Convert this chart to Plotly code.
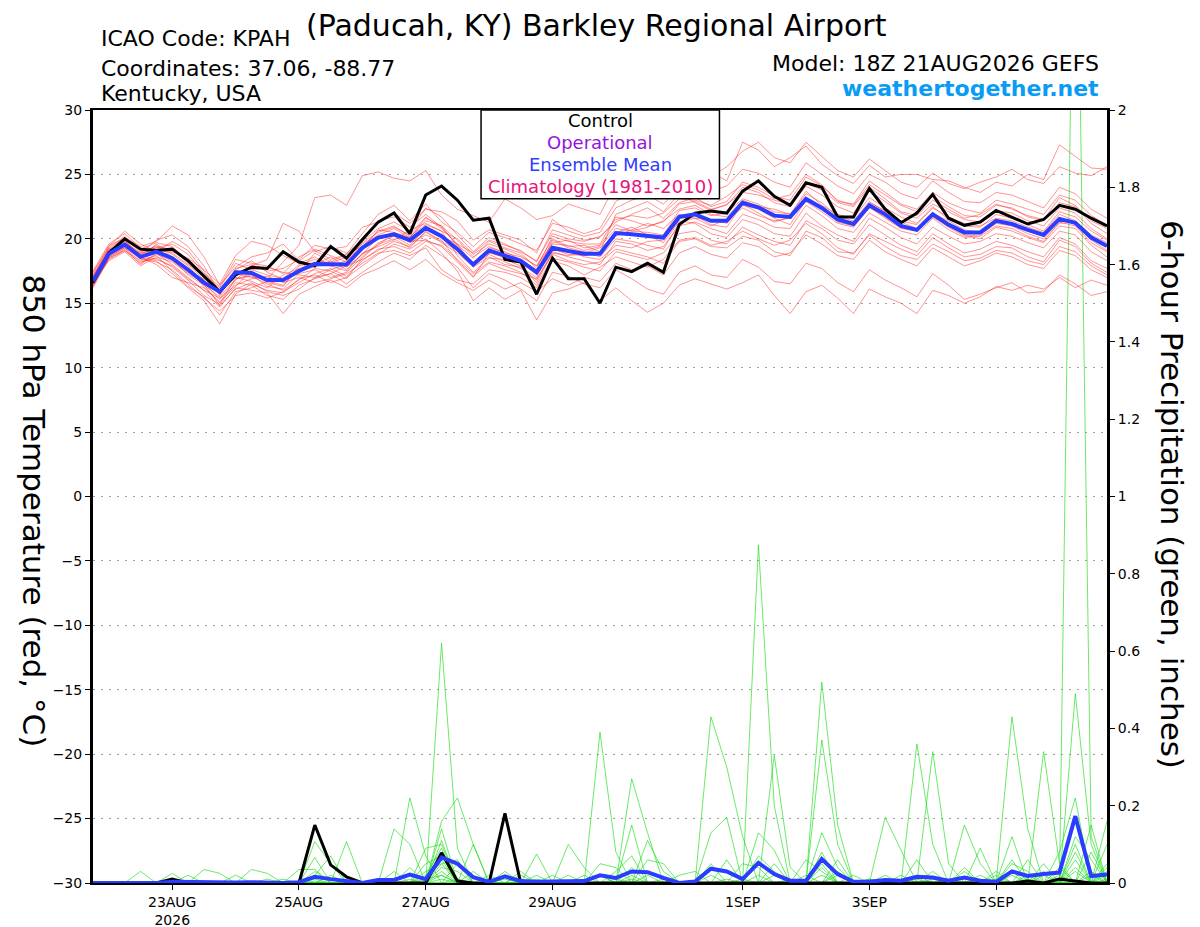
import pandas as pd
import plotly.graph_objects as go

# 6-hourly forecast times, 18Z 21 Aug to 18Z 6 Sep
times = pd.date_range("2026-08-21 18:00", periods=65, freq="6h")

tick_dates = ["2026-08-23", "2026-08-25", "2026-08-27", "2026-08-29",
              "2026-09-01", "2026-09-03", "2026-09-05"]
tick_text = ["23AUG<br>2026", "25AUG", "27AUG", "29AUG", "1SEP", "3SEP", "5SEP"]

# 850 hPa temperature (C)
control_t = [16.6, 18.9, 20.0, 19.2, 19.1, 19.2, 18.3, 17.1, 15.9, 17.2, 17.8, 17.7, 19.0,
             18.2, 17.9, 19.4, 18.5, 19.95, 21.3, 22.0, 20.4, 23.4, 24.1, 23.0, 21.45, 21.6,
             18.4, 18.2, 15.7, 18.5, 16.9, 16.9, 15.0, 17.8, 17.45, 18.1, 17.4, 21.1, 22.0,
             22.15, 22.0, 23.7, 24.5, 23.3, 22.6, 24.35, 24.0, 21.7, 21.7, 23.9, 22.3, 21.25,
             22.0, 23.45, 21.6, 21.05, 21.3, 22.2, 21.7, 21.15, 21.5, 22.6, 22.3, 21.6, 21.0]
mean_t = [16.7, 18.85, 19.55, 18.6, 19.0, 18.5, 17.6, 16.6, 15.9, 17.4, 17.35, 16.8, 16.8,
          17.5, 18.05, 18.05, 18.0, 19.3, 20.1, 20.35, 19.9, 20.85, 20.2, 19.2, 18.0, 19.1,
          18.7, 18.3, 17.4, 19.3, 19.05, 18.85, 18.85, 20.45, 20.35, 20.2, 20.1, 21.7, 21.9,
          21.4, 21.4, 22.8, 22.45, 21.8, 21.7, 23.1, 22.4, 21.5, 21.15, 22.6, 21.9, 21.0,
          20.7, 21.9, 21.1, 20.5, 20.5, 21.4, 21.15, 20.7, 20.3, 21.55, 21.25, 20.1, 19.45]

m1 = [16.9, 19.2, 20.1, 19.4, 19.8, 21.0, 20.3, 18.6, 16.4,
      17.8, 18.6, 18.9, 19.6, 18.3, 19.1, 18.4, 18.8,
      20.4, 21.9, 22.6, 21.4, 22.7, 21.3, 20.5, 19.4,
      20.5, 20.1, 19.6, 19.1, 21.2, 20.9, 20.4, 20.8,
      22.9, 23.6, 24.2, 23.8, 24.9, 25.7, 24.8, 25.6,
      26.8, 27.5, 26.3, 25.9, 27.5, 26.4, 25.3, 24.8,
      26.2, 25.3, 24.4, 24.0, 25.1, 24.3, 23.9, 24.4,
      24.8, 25.4, 24.6, 24.3, 25.6, 25.1, 24.9, 25.6]
m2 = [16.5, 18.6, 19.3, 18.2, 18.5, 17.8, 16.8, 15.6, 14.9,
      16.6, 16.4, 15.6, 15.3, 16.4, 16.9, 17.3, 16.5,
      17.4, 18.2, 18.9, 18.4, 19.5, 18.7, 17.8, 16.2,
      17.3, 16.8, 16.1, 15.2, 17.4, 17.1, 16.5, 16.2,
      17.6, 16.9, 16.1, 15.7, 17.4, 17.9, 17.2, 17.0,
      18.4, 17.8, 16.7, 16.5, 18.1, 17.7, 16.6, 15.9,
      17.6, 16.8, 16.2, 15.5, 17.3, 16.4, 15.3, 15.7,
      16.2, 16.6, 15.8, 15.9, 17.2, 16.5, 15.6, 15.9]
m3 = [17.2, 19.0, 19.8, 18.9, 19.2, 18.9, 18.0, 17.1, 16.2,
      18.1, 17.6, 17.2, 16.9, 18.0, 18.4, 18.1, 18.6,
      19.6, 20.3, 20.8, 20.1, 21.6, 21.0, 19.9, 18.6,
      19.4, 18.9, 18.6, 17.9, 19.6, 19.5, 19.1, 19.4,
      20.8, 20.6, 20.5, 20.3, 22.2, 22.4, 21.8, 22.0,
      23.1, 22.7, 22.1, 21.9, 23.5, 22.8, 21.7, 21.4,
      22.9, 22.1, 21.3, 20.8, 22.0, 21.4, 20.7, 20.5,
      21.5, 21.2, 20.6, 20.2, 21.6, 21.1, 19.9, 19.1]
m4 = [16.4, 18.7, 19.4, 18.5, 18.3, 17.3, 16.2, 15.2, 13.4,
      15.7, 16.5, 16.0, 15.8, 16.9, 17.2, 16.6, 17.0,
      17.9, 18.8, 19.6, 19.2, 20.0, 18.9, 17.5, 15.2,
      16.2, 15.3, 16.0, 13.7, 15.8, 16.1, 16.6, 15.2,
      16.2, 15.2, 14.3, 15.0, 16.4, 16.9, 16.5, 16.1,
      16.6, 17.2, 15.6, 14.2, 15.9, 16.4, 15.4, 14.2,
      16.1, 15.5, 15.0, 14.2, 16.0, 15.6, 15.0, 15.5,
      16.3, 16.0, 16.4, 16.1, 17.0, 16.2, 16.8, 16.4]
m5 = [17.0, 19.4, 20.6, 19.6, 19.0, 19.8, 19.1, 17.5, 15.9,
      17.3, 17.0, 16.9, 18.2, 19.5, 23.2, 23.4, 22.6,
      24.9, 25.2, 24.7, 24.5, 25.3, 23.4, 22.3, 21.8,
      21.3, 23.1, 22.4, 21.5, 21.8, 22.7, 22.3, 21.9,
      24.3, 24.9, 24.4, 24.7, 25.4, 25.9, 25.2, 24.5,
      27.5, 26.9, 25.6, 26.3, 27.2, 25.8, 24.9, 24.3,
      25.7, 24.8, 25.0, 25.0, 24.6, 24.5, 24.0, 23.6,
      24.4, 24.1, 25.0, 24.6, 27.3, 26.4, 25.5, 25.4]
m6 = [16.6, 18.3, 19.0, 17.9, 18.6, 18.2, 17.3, 16.6, 15.3,
      16.8, 17.9, 18.4, 21.2, 20.6, 19.0, 19.4, 18.9,
      19.8, 20.8, 21.3, 20.6, 22.4, 21.7, 20.3, 19.0,
      20.1, 19.6, 19.0, 18.3, 20.4, 20.0, 19.8, 20.2,
      21.3, 21.9, 22.4, 21.6, 22.8, 23.2, 22.5, 22.9,
      24.4, 24.0, 23.3, 23.0, 24.8, 24.1, 23.0, 22.6,
      24.2, 23.4, 22.6, 22.1, 23.3, 22.5, 21.8, 21.7,
      22.6, 22.4, 21.7, 21.4, 22.8, 22.5, 21.2, 20.4]
m7 = [16.8, 19.1, 19.7, 18.8, 19.5, 18.6, 17.7, 16.3, 15.0,
      16.9, 17.2, 16.3, 16.1, 17.3, 17.6, 17.0, 17.4,
      18.6, 19.7, 20.2, 19.5, 20.8, 20.2, 19.6, 17.9,
      18.8, 18.2, 17.7, 16.8, 19.0, 18.6, 18.3, 18.0,
      19.8, 19.6, 19.1, 19.4, 21.0, 21.3, 20.8, 20.4,
      21.9, 21.5, 20.9, 20.8, 22.6, 21.8, 20.8, 20.5,
      22.0, 21.3, 20.6, 20.3, 21.6, 20.7, 20.1, 20.2,
      21.0, 20.8, 20.2, 19.8, 21.3, 21.0, 19.7, 19.0]
m8 = [16.3, 18.5, 19.2, 18.0, 18.9, 18.0, 17.0, 16.0, 14.7,
      16.2, 16.0, 15.8, 14.2, 15.7, 16.3, 16.8, 16.2,
      17.2, 17.7, 18.3, 17.6, 18.4, 17.3, 16.6, 16.0,
      16.8, 16.1, 16.6, 15.9, 16.9, 16.4, 17.0, 16.7,
      18.1, 17.6, 17.9, 17.2, 18.9, 19.4, 18.8, 18.5,
      19.7, 19.4, 18.6, 18.9, 20.3, 19.6, 18.7, 18.4,
      19.9, 19.0, 18.4, 17.9, 19.3, 18.6, 17.9, 18.3,
      18.9, 18.6, 18.0, 17.7, 19.1, 18.7, 17.6, 17.0]
m9 = [17.4, 19.3, 20.2, 19.1, 19.3, 19.0, 18.5, 17.6, 16.5,
      18.7, 19.8, 19.5, 18.7, 18.1, 18.6, 17.9, 17.5,
      18.9, 19.4, 19.9, 20.7, 21.2, 20.6, 18.7, 17.4,
      18.5, 18.4, 17.9, 16.6, 18.9, 18.7, 18.9, 19.3,
      20.2, 20.7, 21.2, 20.8, 21.9, 21.6, 21.0, 21.5,
      22.4, 21.8, 21.4, 21.6, 22.9, 22.1, 21.2, 20.9,
      22.4, 21.7, 20.9, 20.6, 21.8, 21.0, 20.3, 20.0,
      20.9, 20.6, 20.1, 19.7, 21.0, 20.8, 19.5, 18.6]
m10 = [16.7, 18.9, 19.5, 18.4, 18.2, 17.6, 16.5, 15.4, 14.4,
       15.6, 15.8, 15.4, 15.9, 16.6, 17.3, 17.7, 17.1,
       18.3, 19.2, 19.4, 18.9, 19.8, 19.5, 18.4, 17.3,
       18.2, 17.9, 17.4, 16.4, 18.5, 18.2, 17.8, 17.5,
       19.0, 18.7, 18.4, 18.9, 20.4, 20.6, 19.9, 19.6,
       20.9, 20.3, 19.8, 19.5, 21.4, 20.8, 19.9, 19.6,
       21.1, 20.3, 19.5, 19.0, 20.4, 19.6, 18.9, 19.2,
       19.8, 19.5, 19.0, 18.6, 20.1, 19.6, 18.3, 17.7]
m11 = [16.9, 19.0, 19.9, 19.2, 19.7, 19.4, 18.3, 17.2, 15.6,
       17.5, 17.3, 16.6, 16.3, 17.9, 18.2, 17.9, 18.3,
       19.9, 21.4, 21.7, 20.9, 21.9, 20.9, 19.5, 18.5,
       19.8, 19.3, 18.9, 17.7, 20.2, 19.8, 19.6, 19.6,
       21.7, 21.4, 21.0, 21.3, 22.7, 22.9, 22.3, 22.6,
       24.0, 23.6, 22.8, 22.5, 24.1, 23.4, 22.5, 22.0,
       23.7, 22.9, 22.0, 21.6, 22.7, 22.1, 21.5, 21.3,
       22.2, 22.0, 21.4, 21.0, 22.4, 22.0, 20.8, 20.0]
m12 = [16.5, 18.4, 19.1, 18.1, 18.8, 18.3, 17.4, 16.9, 16.0,
       17.0, 16.7, 16.2, 17.2, 17.7, 18.0, 18.6, 17.8,
       18.8, 19.5, 20.5, 19.7, 20.3, 19.8, 19.1, 18.2,
       19.0, 18.5, 18.2, 17.5, 19.2, 18.8, 18.7, 18.9,
       20.5, 20.9, 20.3, 19.7, 21.3, 21.6, 21.5, 21.2,
       22.6, 22.3, 21.6, 21.1, 23.0, 22.3, 21.6, 21.2,
       22.5, 21.6, 20.8, 20.6, 21.7, 20.9, 20.2, 20.3,
       21.2, 21.0, 20.4, 20.0, 21.2, 21.3, 20.0, 19.5]
m13 = [17.1, 19.2, 19.6, 18.7, 18.4, 17.9, 16.9, 16.0, 15.4,
       16.4, 16.9, 17.1, 16.6, 17.0, 16.6, 16.9, 17.3,
       18.1, 18.9, 19.1, 18.7, 19.3, 17.6, 16.8, 16.5,
       17.6, 17.4, 17.0, 16.2, 18.3, 17.9, 17.2, 17.8,
       18.6, 18.2, 17.8, 18.4, 19.9, 20.1, 19.5, 19.8,
       20.6, 20.0, 19.5, 19.9, 21.2, 20.4, 19.3, 18.8,
       20.4, 19.8, 19.2, 18.7, 20.1, 19.3, 18.6, 18.8,
       19.4, 19.3, 18.6, 18.2, 19.9, 19.4, 18.1, 17.4]
m14 = [16.6, 18.8, 19.4, 18.9, 19.9, 20.3, 19.4, 17.9, 15.8,
       17.6, 18.3, 17.4, 16.9, 17.4, 18.9, 18.2, 18.8,
       19.4, 20.6, 21.0, 20.2, 21.1, 20.6, 20.0, 18.8,
       19.6, 19.2, 18.7, 17.9, 20.0, 19.4, 19.5, 19.0,
       21.9, 22.4, 22.9, 22.1, 23.5, 22.8, 22.2, 22.7,
       23.6, 23.4, 23.0, 22.7, 24.3, 23.8, 22.8, 22.5,
       24.0, 23.1, 22.1, 21.8, 23.0, 22.3, 21.6, 21.9,
       22.7, 22.3, 21.8, 21.5, 23.2, 22.6, 21.4, 20.8]
m15 = [17.5, 19.6, 20.4, 19.3, 19.1, 18.4, 17.2, 16.4, 15.5,
       16.9, 17.1, 16.5, 16.0, 16.8, 17.7, 17.5, 16.9,
       18.5, 19.6, 20.0, 19.3, 20.6, 19.7, 18.9, 17.8,
       18.6, 18.0, 17.8, 17.0, 19.4, 19.1, 18.6, 18.4,
       19.5, 19.3, 19.8, 19.9, 21.4, 21.2, 20.4, 20.1,
       21.5, 21.1, 20.4, 20.2, 22.0, 21.0, 20.3, 19.8,
       21.6, 20.9, 20.1, 19.6, 20.9, 20.2, 19.6, 19.8,
       20.4, 20.2, 19.7, 19.3, 20.6, 20.3, 19.0, 18.3]
m16 = [16.2, 18.5, 19.1, 18.3, 18.7, 17.5, 16.3, 15.5, 14.1,
       15.9, 16.2, 16.7, 16.4, 17.6, 17.8, 18.3, 17.6,
       18.8, 20.1, 20.3, 19.8, 19.9, 19.4, 18.2, 17.0,
       18.9, 18.6, 18.1, 17.3, 19.9, 19.3, 19.0, 18.6,
       20.0, 19.8, 19.5, 19.2, 21.2, 21.8, 21.1, 20.9,
       22.7, 22.0, 21.3, 21.7, 23.2, 22.5, 21.3, 21.0,
       22.8, 22.2, 21.4, 21.1, 22.4, 21.7, 21.2, 21.0,
       21.6, 21.4, 20.9, 20.5, 21.9, 21.4, 20.3, 19.7]
m17 = [16.8, 18.9, 19.9, 18.6, 18.0, 17.0, 16.6, 16.2, 15.1,
       16.3, 17.6, 17.8, 17.4, 17.2, 17.0, 17.6, 18.0,
       19.2, 20.7, 20.5, 20.1, 21.4, 21.0, 19.4, 18.1,
       19.3, 19.0, 18.4, 17.6, 19.7, 19.9, 19.3, 19.5,
       21.1, 20.6, 20.9, 21.4, 22.3, 22.6, 21.9, 21.7,
       23.0, 22.5, 22.3, 21.9, 23.7, 22.6, 21.9, 21.6,
       23.2, 22.4, 21.7, 21.2, 22.5, 21.5, 21.0, 20.9,
       21.9, 21.6, 21.1, 20.6, 22.1, 21.7, 20.6, 19.9]
m18 = [17.3, 19.5, 20.0, 19.0, 19.4, 19.2, 18.1, 16.8, 15.7,
       17.7, 18.0, 17.5, 17.7, 18.4, 19.5, 19.2, 19.4,
       20.9, 21.3, 22.0, 21.2, 22.3, 22.1, 21.4, 19.9,
       20.7, 20.3, 19.9, 18.9, 21.5, 20.6, 20.2, 20.5,
       22.4, 23.0, 23.4, 22.7, 23.9, 24.3, 23.7, 24.1,
       25.4, 25.1, 24.4, 24.0, 25.9, 25.0, 24.1, 23.5,
       25.0, 24.4, 23.5, 23.1, 24.5, 23.6, 22.9, 22.8,
       23.6, 23.4, 22.9, 22.4, 24.0, 23.5, 22.3, 21.6]
m19 = [16.4, 18.6, 19.3, 18.5, 19.6, 18.8, 17.9, 16.5, 14.8,
       16.1, 16.6, 15.9, 15.6, 16.1, 17.0, 17.3, 17.9,
       18.4, 19.1, 19.8, 19.4, 20.5, 19.9, 18.3, 17.1,
       18.1, 17.6, 17.3, 16.9, 18.8, 18.3, 18.0, 18.2,
       19.2, 18.9, 18.6, 18.1, 19.8, 20.0, 19.4, 19.3,
       20.2, 19.9, 19.0, 18.7, 20.6, 20.1, 19.0, 18.9,
       20.3, 19.4, 18.7, 18.4, 19.6, 19.0, 18.3, 18.5,
       19.1, 18.9, 18.3, 18.0, 19.4, 19.0, 17.9, 17.2]
m20 = [17.0, 19.1, 19.8, 18.8, 19.3, 19.6, 18.8, 17.3, 16.3,
       18.4, 18.1, 17.9, 17.3, 18.6, 19.2, 18.7, 18.2,
       19.7, 20.5, 20.9, 20.3, 21.7, 20.8, 19.6, 18.9,
       19.9, 19.5, 19.1, 18.2, 20.7, 20.3, 19.9, 20.1,
       21.5, 21.8, 21.6, 22.0, 23.1, 23.0, 22.6, 23.3,
       24.2, 23.8, 23.1, 23.4, 25.0, 24.2, 22.9, 22.7,
       24.5, 23.6, 22.7, 22.3, 23.6, 22.8, 22.3, 22.0,
       23.0, 22.7, 22.3, 21.9, 23.4, 23.0, 21.8, 21.1]
members_t = [m1, m2, m3, m4, m5, m6, m7, m8, m9, m10,
             m11, m12, m13, m14, m15, m16, m17, m18, m19, m20]

# 6-hour precipitation (inches)
control_p = [0, 0, 0, 0, 0, .01, 0, 0, 0, 0, 0, 0, 0,
             0, .15, .047, .016, 0, 0, 0, 0, 0, .078, .005, 0, 0,
             .18, 0, 0, 0, 0, 0, 0, 0, 0, 0, 0, 0, 0,
             0, 0, 0, 0, 0, 0, 0, 0, 0, 0, 0, 0, 0,
             0, 0, 0, 0, 0, 0, 0, .005, 0, .01, .005, 0, 0]
mean_p = [0, 0, 0, .002, 0, .003, .002, .003, .002, .001, .002, .001, 0,
          .002, .016, .01, .005, 0, .008, .008, .022, .01, .066, .05, .015, .003,
          .017, .005, .003, .003, .003, .005, .02, .013, .03, .028, .013, 0, .004,
          .037, .03, .01, .052, .023, .006, .006, .062, .023, .003, .003, .008, .006,
          .016, .014, .006, .014, .006, .003, .03, .018, .023, .027, .173, .018, .022]

p1 = [0, 0, 0, .03, 0, 0, 0, 0, 0, 0, 0, 0, 0,
      0, .107, .05, 0, 0, 0, 0, 0, 0, .62, .09, 0, 0,
      0, 0, 0, 0, 0, 0, 0, 0, 0, 0, 0, 0, 0,
      0, 0, 0, .875, .2, 0, 0, .08, 0, 0, 0, 0, 0,
      0, 0, 0, 0, 0, 0, 0, 0, 0, 0, .49, .1, 0]
p2 = [0, 0, 0, 0, 0, .025, 0, 0, 0, 0, 0, 0, 0,
      0, .066, 0, .107, 0, 0, 0, .22, .07, 0, 0, 0, 0,
      0, 0, 0, 0, 0, 0, .39, .08, 0, 0, 0, 0, 0,
      0, 0, 0, 0, 0, 0, 0, .52, .15, 0, 0, 0, 0,
      0, 0, 0, 0, 0, 0, .12, 0, 0, 0, .08, 0, .16]
p3 = [0, 0, 0, 0, 0, 0, 0, .035, .025, 0, 0, 0, 0,
      0, 0, 0, 0, 0, 0, .14, .1, 0, .16, .22, .1, 0,
      0, 0, 0, 0, 0, 0, 0, 0, 0, 0, 0, 0, 0,
      .43, .3, .12, 0, 0, 0, 0, 0, 0, 0, 0, 0, 0,
      .36, .1, 0, 0, 0, 0, 0, 0, .05, 0, 0, 0, 0]
p4 = [0, 0, 0, 0, 0, 0, 0, 0, 0, 0, .035, .025, 0,
      0, 0, 0, 0, 0, 0, 0, 0, 0, .14, 0, 0, 0,
      0, 0, .075, 0, 0, 0, 0, 0, .27, .13, 0, 0, 0,
      0, 0, 0, 0, .33, .04, 0, 0, 0, 0, 0, 0, 0,
      0, 0, 0, 0, 0, 0, .43, .14, 0, 0, 2.9, .12, 0]
p5 = [0, 0, 0, 0, 0, 0, .02, 0, 0, 0, 0, 0, 0,
      .035, .035, 0, 0, 0, 0, 0, 0, .09, .1, 0, 0, 0,
      0, 0, 0, 0, .1, .04, 0, 0, 0, 0, 0, 0, 0,
      0, 0, 0, 0, 0, 0, 0, .37, .1, 0, 0, 0, 0,
      0, .34, .05, 0, 0, 0, 0, 0, .34, .05, 0, 0, 0]
p6 = [0, 0, 0, 0, 0, 0, 0, 0, 0, 0, 0, 0, .01,
      0, 0, 0, 0, 0, 0, 0, 0, 0, .08, 0, .1, 0,
      .03, 0, 0, 0, 0, 0, 0, 0, .15, 0, 0, 0, 0,
      .13, .17, 0, 0, 0, 0, 0, 0, 0, 0, 0, .17, .085,
      0, 0, 0, 0, .09, 0, 0, .06, 0, 0, 0, 0, .1]
p7 = [0, 0, 0, 0, 0, 0, 0, 0, 0, 0, 0, 0, 0,
      0, .02, .07, 0, 0, 0, 0, 0, .03, .05, .06, 0, 0,
      0, .03, 0, 0, 0, 0, .05, .04, 0, 0, 0, 0, 0,
      0, 0, 0, .13, .085, 0, 0, 0, 0, 0, 0, 0, 0,
      0, 0, 0, .15, .05, 0, 0, 0, 0, 0, 0, .15, 0]
p8 = [0, 0, 0, 0, 0, 0, 0, 0, 0, 0, 0, .01, 0,
      0, 0, 0, 0, 0, 0, 0, .04, 0, .11, 0, 0, 0,
      .02, 0, 0, .02, 0, 0, 0, 0, 0, .06, .05, 0, 0,
      0, 0, 0, 0, 0, 0, 0, .13, .04, 0, 0, 0, 0,
      0, 0, 0, 0, 0, .03, 0, 0, 0, .08, .22, 0, .05]
p9 = [0, 0, 0, 0, 0, 0, 0, 0, 0, .02, 0, 0, 0,
      0, 0, 0, 0, 0, .01, 0, 0, .05, .07, 0, 0, .02,
      0, 0, 0, 0, 0, .02, 0, 0, 0, 0, 0, .02, .03,
      0, 0, 0, 0, 0, 0, .06, .03, 0, 0, 0, 0, 0,
      .06, 0, 0, .03, 0, 0, 0, 0, 0, 0, .12, .06, 0]
p10 = [0, 0, 0, 0, 0, 0, 0, 0, 0, 0, 0, 0, 0,
       0, .03, 0, 0, 0, 0, 0, 0, 0, .04, .03, 0, 0,
       0, 0, .02, 0, 0, 0, 0, .03, .07, 0, 0, 0, 0,
       0, 0, .05, .04, 0, 0, 0, 0, 0, .02, 0, 0, 0,
       0, 0, 0, 0, .02, 0, .05, .03, 0, .04, 0, 0, 0]
p11 = [0, 0, 0, 0, 0, 0, 0, 0, 0, 0, 0, 0, 0,
       0, 0, .02, 0, 0, 0, 0, 0, .02, .09, 0, 0, 0,
       0, .02, 0, 0, 0, 0, 0, 0, .04, 0, 0, 0, 0,
       0, 0, 0, .07, .03, 0, 0, 0, .06, 0, 0, 0, 0,
       0, .03, 0, 0, 0, .02, 0, 0, .03, 0, 0, .08, 0]
p12 = [0, 0, 0, 0, 0, 0, 0, 0, 0, 0, 0, 0, 0,
       0, 0, 0, 0, 0, 0, 0, 0, 0, .06, 0, .03, 0,
       0, 0, 0, 0, 0, 0, .02, 0, 0, .11, .03, 0, 0,
       0, .06, 0, 0, 0, 0, 0, .05, 0, 0, 0, 0, .02,
       0, 0, 0, 0, 0, 0, .02, 0, 0, 0, .1, 0, .04]
p13 = [0, 0, 0, 0, 0, 0, 0, 0, 0, 0, 0, 0, 0,
       0, .01, 0, 0, 0, 0, .03, 0, 0, 0, .05, 0, 0,
       0, 0, 0, 0, .02, 0, 0, 0, 0, 0, 0, 0, 0,
       .05, 0, 0, 0, 0, 0, .02, 0, 0, 0, .01, 0, 0,
       0, 0, 0, .04, 0, 0, 0, .02, 0, 0, 0, .03, 0]
p14 = [0, 0, 0, 0, 0, 0, 0, 0, 0, 0, 0, 0, 0,
       0, 0, 0, 0, 0, 0, 0, 0, 0, .03, 0, 0, 0,
       .01, 0, 0, 0, 0, 0, 0, 0, .02, 0, 0, 0, 0,
       0, 0, 0, 0, .05, 0, 0, 0, .03, 0, 0, 0, 0,
       .02, 0, 0, 0, 0, 0, .06, 0, 0, 0, .06, 0, .02]
p15 = [0, 0, 0, 0, 0, 0, 0, 0, 0, 0, 0, 0, 0,
       0, 0, 0, 0, 0, 0, 0, 0, .01, .02, 0, 0, 0,
       0, 0, 0, 0, 0, 0, 0, .01, 0, 0, 0, 0, 0,
       0, 0, 0, .02, 0, 0, 0, .02, 0, 0, 0, 0, 0,
       0, 0, 0, 0, .01, 0, 0, 0, 0, .02, 0, 0, 0]
p16 = [0, 0, 0, 0, 0, 0, 0, 0, 0, 0, 0, 0, 0,
       0, 0, 0, 0, 0, 0, 0, 0, 0, 0, .01, 0, 0,
       0, 0, 0, 0, 0, 0, 0, 0, 0, .02, 0, 0, 0,
       0, .01, 0, 0, 0, 0, 0, 0, .02, 0, 0, 0, 0,
       0, 0, .01, 0, 0, 0, 0, 0, 0, 0, .03, 0, 0]
p17 = [0, 0, 0, 0, 0, 0, 0, 0, 0, 0, 0, 0, 0,
       0, 0, 0, 0, 0, 0, 0, 0, 0, .05, 0, 0, 0,
       0, 0, .01, 0, 0, 0, 0, 0, 0, 0, 0, 0, 0,
       .02, 0, 0, 0, 0, 0, 0, .04, 0, 0, 0, .02, 0,
       0, 0, 0, 0, 0, 0, .03, 0, 0, 0, 0, .02, 0]
p18 = [0, 0, 0, 0, 0, 0, 0, 0, 0, 0, 0, 0, 0,
       0, .005, 0, 0, 0, 0, 0, 0, 0, .02, 0, 0, 0,
       0, 0, 0, 0, 0, 0, 0, 0, .01, 0, 0, 0, 0,
       0, 0, 0, 0, .02, 0, 0, 0, 0, 0, 0, 0, 0,
       0, .01, 0, 0, 0, 0, 0, 0, .02, 0, 0, 0, .01]
p19 = [0, 0, 0, 0, 0, 0, 0, 0, 0, 0, 0, 0, 0,
       0, 0, 0, 0, 0, 0, 0, .01, 0, 0, 0, 0, 0,
       0, 0, 0, 0, 0, 0, .02, 0, 0, 0, 0, 0, 0,
       0, 0, .01, 0, 0, 0, 0, 0, 0, 0, .01, 0, 0,
       0, 0, 0, 0, 0, .01, 0, 0, 0, 0, .04, 0, 0]
p20 = [0, 0, 0, 0, 0, 0, 0, 0, 0, 0, 0, 0, 0,
       0, 0, 0, 0, 0, 0, 0, 0, 0, .01, 0, 0, 0,
       0, 0, 0, 0, 0, 0, 0, 0, 0, 0, .01, 0, 0,
       0, 0, 0, 0, 0, .01, 0, 0, 0, 0, 0, 0, 0,
       .01, 0, 0, 0, 0, 0, 0, .01, 0, 0, 0, 0, .03]
members_p = [p1, p2, p3, p4, p5, p6, p7, p8, p9, p10,
             p11, p12, p13, p14, p15, p16, p17, p18, p19, p20]

FONT = "DejaVu Sans"

fig = go.Figure()

# precipitation on the primary (right-hand) axis so temperature draws on top
for p in members_p:
    fig.add_trace(go.Scatter(x=times, y=p, mode="lines", yaxis="y",
                             line=dict(color="rgba(20,220,20,0.8)", width=0.8),
                             hoverinfo="skip"))
fig.add_trace(go.Scatter(x=times, y=control_p, mode="lines", yaxis="y",
                         line=dict(color="black", width=3)))
fig.add_trace(go.Scatter(x=times, y=mean_p, mode="lines", yaxis="y",
                         line=dict(color="#2a3cff", width=4)))

for m in members_t:
    fig.add_trace(go.Scatter(x=times, y=m, mode="lines", yaxis="y2",
                             line=dict(color="rgba(255,30,30,0.6)", width=0.8),
                             hoverinfo="skip"))
fig.add_trace(go.Scatter(x=times, y=control_t, mode="lines", yaxis="y2",
                         line=dict(color="black", width=3)))
fig.add_trace(go.Scatter(x=times, y=mean_t, mode="lines", yaxis="y2",
                         line=dict(color="#2a3cff", width=4)))

# page body adds 8px, so the figure is 8px smaller than the window
fig.update_layout(
    width=1192, height=919,
    margin=dict(l=85, r=93, t=102, b=44),
    paper_bgcolor="white", plot_bgcolor="white",
    font=dict(family=FONT, size=14, color="black"),
    showlegend=False,
    hovermode=False,
    xaxis=dict(type="date", range=[times[0], times[-1]], automargin=False,
               tickmode="array", tickvals=tick_dates, ticktext=tick_text,
               ticks="outside", ticklen=5, tickcolor="black",
               showline=True, linecolor="black", linewidth=2, mirror=True,
               showgrid=False, zeroline=False, tickfont=dict(size=14)),
    yaxis=dict(range=[0, 2], dtick=0.2, side="right", automargin=False,
               ticks="outside", ticklen=5, tickcolor="black",
               showline=True, linecolor="black", linewidth=3,
               showgrid=False, zeroline=False, tickfont=dict(size=14)),
    yaxis2=dict(range=[-30, 30], dtick=5, side="left", overlaying="y", automargin=False,
                ticks="outside", ticklen=5, tickcolor="black",
                showline=True, linecolor="black", linewidth=3,
                showgrid=True, gridcolor="#a0a0a0", griddash="2px,6px", gridwidth=1,
                zeroline=False, tickfont=dict(size=14)),
)

# legend box (text only, no line samples)
fig.add_shape(type="rect", xref="paper", yref="paper",
              x0=0.3827, x1=0.6178, y0=0.8853, y1=1.0,
              fillcolor="white", line=dict(color="black", width=1.5))
legend_items = [("Control", "black", 0.9861),
                ("Operational", "#9414e0", 0.9582),
                ("Ensemble Mean", "#2e3dff", 0.9298),
                ("Climatology (1981-2010)", "#e8137a", 0.9008)]
for txt, col, yy in legend_items:
    fig.add_annotation(text=txt, x=0.5, y=yy, xref="paper", yref="paper",
                       xanchor="center", yanchor="middle",
                       showarrow=False, font=dict(size=18, color=col))

# header texts
fig.add_annotation(text="(Paducah, KY) Barkley Regional Airport", x=0.4963, y=1.1087,
                   xref="paper", yref="paper", xanchor="center", yanchor="middle",
                   showarrow=False, font=dict(size=30))
for txt, yy in [("ICAO Code: KPAH", 1.0931),
                ("Coordinates: 37.06, -88.77", 1.0543),
                ("Kentucky, USA", 1.0214)]:
    fig.add_annotation(text=txt, x=0.0057, y=yy, xref="paper", yref="paper",
                       xanchor="left", yanchor="middle", showarrow=False,
                       font=dict(size=22))
fig.add_annotation(text="Model: 18Z 21AUG2026 GEFS", x=0.9938, y=1.0599,
                   xref="paper", yref="paper", xanchor="right", yanchor="middle",
                   showarrow=False, font=dict(size=22))
fig.add_annotation(text="<b>weathertogether.net</b>", x=0.9938, y=1.0275,
                   xref="paper", yref="paper", xanchor="right", yanchor="middle",
                   showarrow=False, font=dict(size=22, color="#0a9cf5"))

# axis titles, both reading top to bottom
fig.add_annotation(text="850 hPa Temperature (red, °C)", x=-0.0591, y=0.4819,
                   xref="paper", yref="paper", xanchor="center", yanchor="middle",
                   textangle=90, showarrow=False, font=dict(size=31))
fig.add_annotation(text="6-hour Precipitation (green, inches)", x=1.0641, y=0.502,
                   xref="paper", yref="paper", xanchor="center", yanchor="middle",
                   textangle=90, showarrow=False, font=dict(size=31))

fig.write_html("out.html")
